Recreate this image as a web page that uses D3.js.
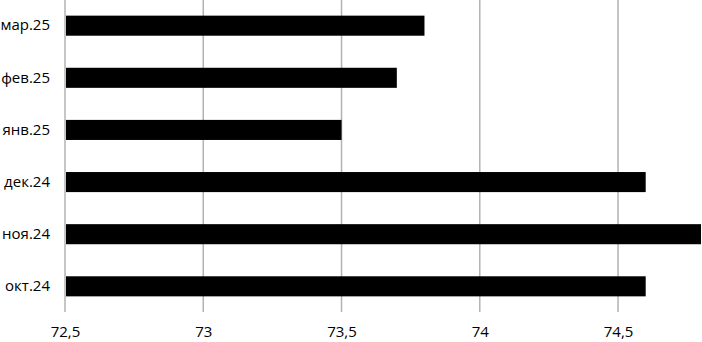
<!DOCTYPE html>
<html>
<head>
<meta charset="utf-8">
<script src="https://cdn.jsdelivr.net/npm/d3@7"></script>
<style>
  body { margin: 0; background: #fff; }
  text { font-family: "Open Sans", sans-serif; fill: #000; }
</style>
</head>
<body>
<div id="chart"></div>
<script>
// data, bottom to top as in the picture
const months = ['окт.24', 'ноя.24', 'дек.24', 'янв.25', 'фев.25', 'мар.25']
const values = [74.6, 74.8, 74.6, 73.5, 73.7, 73.8]
const xTicks = [72.5, 73, 73.5, 74, 74.5]

const W = 702, H = 342
const margin = {top: 0, right: 1, bottom: 30, left: 65}
const width = W - margin.left - margin.right
const height = H - margin.top - margin.bottom

const svg = d3.select('#chart').append('svg')
  .attr('width', W)
  .attr('height', H)

const g = svg.append('g')
  .attr('transform', 'translate(' + margin.left + ',' + margin.top + ')')

const x = d3.scaleLinear()
  .domain([72.5, 74.8])
  .range([0, width])

const y = d3.scaleBand()
  .domain(months.slice().reverse())
  .range([0, height])
  .paddingInner(0.615)
  .paddingOuter(0.3)

const fmt = d => String(d).replace('.', ',')

// gridlines
g.selectAll('.grid')
  .data(xTicks)
  .enter().append('line')
    .attr('class', 'grid')
    .attr('x1', d => x(d))
    .attr('x2', d => x(d))
    .attr('y1', 0)
    .attr('y2', height)
    .attr('stroke', '#b3b3b3')
    .attr('stroke-width', 1.5)

// bars
const data = months.map((m, i) => ({month: m, value: values[i]}))
g.selectAll('.bar')
  .data(data)
  .enter().append('rect')
    .attr('class', 'bar')
    .attr('x', 1)
    .attr('y', d => y(d.month))
    .attr('width', d => x(d.value) - 1)
    .attr('height', y.bandwidth())
    .attr('fill', '#000')

// x axis labels
const xAxis = g.append('g')
  .attr('transform', 'translate(0,' + height + ')')
  .call(d3.axisBottom(x).tickValues(xTicks).tickFormat(fmt).tickSize(0).tickPadding(14))
xAxis.select('.domain').remove()
xAxis.selectAll('text')
  .style('font-size', '15px')
  .style('font-family', '"Open Sans", sans-serif')

// y axis labels
const yAxis = g.append('g')
  .call(d3.axisLeft(y).tickSize(0).tickPadding(15))
yAxis.select('.domain').remove()
yAxis.selectAll('text')
  .style('font-size', '15px')
  .style('font-family', '"Open Sans", sans-serif')
</script>
</body>
</html>
